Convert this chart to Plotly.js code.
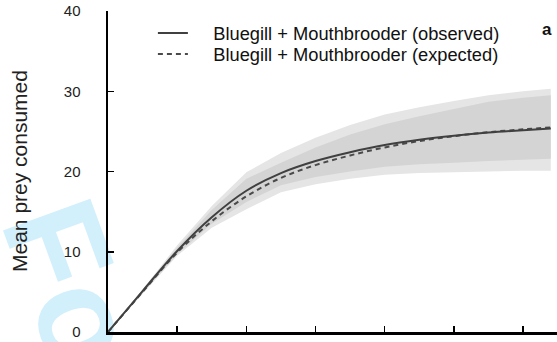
<!DOCTYPE html>
<html>
<head>
<meta charset="utf-8">
<script src="https://cdn.plot.ly/plotly-3.0.1.min.js"></script>
<style>html,body{margin:0;padding:0;background:#fff;}#chart{width:557px;height:342px;}</style>
</head>
<body>
<div id="chart"></div>
<script>
// Prey density (x, unlabeled axis units)
const xVals = [0, 0.5, 1, 1.5, 2, 2.5, 3, 3.5, 4, 4.5, 5, 5.5, 6, 6.4];
// Observed and expected mean prey consumed
const observed = [0, 5.1, 10.1, 14.3, 17.6, 19.8, 21.3, 22.4, 23.3, 23.95, 24.45, 24.85, 25.15, 25.35];
const expected = [0, 5.0, 9.9, 13.8, 16.9, 19.2, 20.8, 22.0, 23.0, 23.8, 24.4, 24.9, 25.25, 25.5];
// Confidence envelope (light gray) and overlap region (dark gray)
const outerHi = [0, 5.3, 10.8, 15.7, 19.9, 22.3, 24.2, 25.8, 27.1, 28.0, 28.8, 29.5, 30.0, 30.3];
const outerLo = [0, 4.8, 9.5, 13.0, 15.3, 17.4, 18.4, 19.1, 19.6, 19.8, 19.9, 20.0, 20.1, 20.1];
const innerHi = [0, 5.2, 10.5, 15.2, 19.1, 21.1, 23.0, 24.6, 25.9, 26.9, 27.8, 28.7, 29.2, 29.5];
const innerLo = [0, 4.9, 9.7, 13.5, 16.2, 18.3, 19.3, 20.0, 20.6, 20.9, 21.1, 21.3, 21.5, 21.6];
const yTicks = [0, 10, 20, 30, 40];
const xTicks = [0, 1, 2, 3, 4, 5, 6];
const seriesNames = ["Bluegill + Mouthbrooder (observed)", "Bluegill + Mouthbrooder (expected)"];
const yTitle = "Mean prey consumed";
const panelLabel = "a";
const watermark = "For Review Only";

function band(lo, hi, color) {
  return {
    x: xVals.concat(xVals.slice().reverse()),
    y: hi.concat(lo.slice().reverse()),
    type: "scatter", mode: "lines", fill: "toself", fillcolor: color,
    line: {width: 0}, hoverinfo: "skip", showlegend: false
  };
}

const pad = "\u00A0\u00A0\u00A0\u00A0";
const traces = [
  band(outerLo, outerHi, "#e5e5e5"),
  band(innerLo, innerHi, "#d4d4d4"),
  {x: xVals, y: expected, type: "scatter", mode: "lines", name: pad + seriesNames[1],
   line: {color: "#4a4a4a", width: 2, dash: "5px,4px", shape: "spline"}, legend: "legend2"},
  {x: xVals, y: observed, type: "scatter", mode: "lines", name: pad + seriesNames[0],
   line: {color: "#404040", width: 2, shape: "spline"}, legend: "legend"}
];

const font = "Liberation Sans, Arial, sans-serif";
const legFont = {size: 18.3, color: "#111", family: font};
// watermark centre in paper units
const wmX = 0.287, wmY = -1.142;
const layout = {
  width: 557, height: 342,
  margin: {l: 108, r: 0, t: 11, b: 10},
  paper_bgcolor: "#fff", plot_bgcolor: "#fff",
  font: {family: font, color: "#222"},
  xaxis: {range: [0, 6.49], tickvals: xTicks, showticklabels: false, ticks: "inside",
          ticklen: 6, tickwidth: 1.5, tickcolor: "#000", showline: true, linecolor: "#000",
          linewidth: 2.5, showgrid: false, zeroline: false, fixedrange: true},
  yaxis: {range: [0, 40], tickvals: yTicks, ticks: "inside", ticklen: 6, tickwidth: 1.5,
          tickcolor: "#000", showline: true, linecolor: "#000", linewidth: 2.5,
          showgrid: false, zeroline: false, ticklabelstandoff: 22,
          tickfont: {size: 15, color: "#222", family: font}, fixedrange: true},
  showlegend: true,
  legend: {x: 0.1, y: 0.9315, xanchor: "left", yanchor: "middle", bgcolor: "rgba(0,0,0,0)",
           font: legFont},
  legend2: {x: 0.1, y: 0.866, xanchor: "left", yanchor: "middle", bgcolor: "rgba(0,0,0,0)",
           font: legFont},
  shapes: [
    {type: "rect", xref: "paper", yref: "paper", x0: wmX - 0.01, x1: wmX + 0.01,
     y0: wmY - 0.01, y1: wmY + 0.01, layer: "below", line: {width: 0},
     fillcolor: "rgba(0,0,0,0)",
     label: {text: watermark, textangle: 70, textposition: "middle center",
             font: {size: 135, color: "#d2effc", family: "Liberation Sans, Arial", weight: "bold"}}}
  ],
  annotations: [
    {text: yTitle, xref: "paper", yref: "paper", x: -0.196, y: 0.5016, xanchor: "center",
     yanchor: "middle", showarrow: false, textangle: -90,
     font: {size: 21, color: "#222", family: font}},
    {text: "<b>" + panelLabel + "</b>", xref: "paper", yref: "paper", x: 0.978, y: 0.941,
     xanchor: "center", yanchor: "middle", showarrow: false,
     font: {size: 17, color: "#111", family: font}}
  ]
};

Plotly.newPlot("chart", traces, layout, {staticPlot: true, displayModeBar: false});
</script>
</body>
</html>
